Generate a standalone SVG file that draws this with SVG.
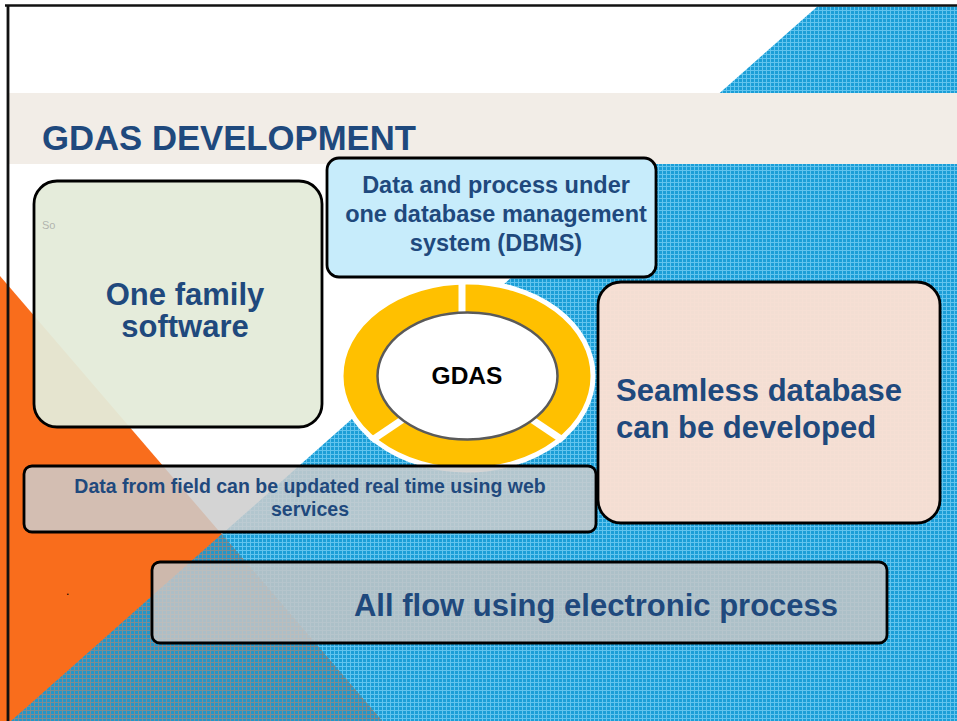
<svg xmlns="http://www.w3.org/2000/svg" width="957" height="721" viewBox="0 0 957 721">
  <style>
    .box { stroke: #000; stroke-width: 2.8; }
    .t { font-family: "Liberation Sans", Arial, sans-serif; font-weight: bold; fill: #1f497d; text-anchor: middle; }
    .tl { font-family: "Liberation Sans", Arial, sans-serif; font-weight: bold; fill: #1f497d; }
  </style>
  <defs>
    <pattern id="blueTex" width="4" height="4" patternUnits="userSpaceOnUse">
      <rect width="4" height="4" fill="#1b9ed7"/>
      <rect x="0" y="2" width="4" height="1" fill="#62c4ee"/>
      <rect x="2" y="0" width="1" height="4" fill="#62c4ee"/>
    </pattern>
    <pattern id="darkTex" width="4" height="4" patternUnits="userSpaceOnUse">
      <rect width="4" height="4" fill="#2496c9"/>
      <rect x="0" y="2" width="4" height="1" fill="#7f8b90"/>
      <rect x="2" y="0" width="1" height="4" fill="#7f8b90"/>
    </pattern>
    <clipPath id="ringClip">
      <ellipse cx="467" cy="376" rx="129" ry="97"/>
    </clipPath>
  </defs>

  <!-- background -->
  <g id="background">
    <rect x="0" y="0" width="957" height="721" fill="#ffffff"/>
    <polygon points="819,5 957,5 957,721 11,721" fill="url(#blueTex)"/>
    <polygon points="0,276 382,721 0,721" fill="#f96d1c"/>
    <polygon points="221.8,534 382,721 11,721" fill="url(#darkTex)"/>
    <rect x="7" y="93" width="950" height="71" fill="#f2ede7"/>
    <line x1="5" y1="5.5" x2="957" y2="5.5" stroke="#111" stroke-width="2.5"/>
    <line x1="8" y1="5" x2="8" y2="721" stroke="#111" stroke-width="2.8"/>
  </g>

  <g id="title">
    <text x="42" y="150" font-family="'Liberation Sans', Arial, sans-serif" font-weight="bold" font-size="34.5" fill="#1f497d" textLength="374" lengthAdjust="spacingAndGlyphs">GDAS DEVELOPMENT</text>
  </g>

  <g id="connectors"/>

  <g id="node-one-family">
    <rect class="box" x="34" y="181" width="288" height="246" rx="23" fill="#e4ebd9" fill-opacity="0.95"/>
    <text x="42" y="229" font-family="'Liberation Sans', Arial, sans-serif" font-size="11" fill="#9a9a9a" fill-opacity="0.7">So</text>
    <text class="t" x="185" y="305" font-size="31">One family</text>
    <text class="t" x="185" y="337" font-size="31">software</text>
  </g>

  <g id="node-dbms">
    <rect class="box" x="327" y="158" width="329" height="119" rx="12" fill="#c7ecfb"/>
    <text class="t" x="496" y="193" font-size="23.5">Data and process under</text>
    <text class="t" x="496" y="222" font-size="23.5">one database management</text>
    <text class="t" x="496" y="251" font-size="23.5">system (DBMS)</text>
  </g>

  <g id="node-gdas">
    <ellipse cx="467" cy="376" rx="126" ry="94" fill="#ffc000" stroke="#ffffff" stroke-width="5"/>
    <g clip-path="url(#ringClip)" stroke="#ffffff" stroke-width="7">
      <line x1="462" y1="376" x2="462" y2="260"/>
      <line x1="467" y1="376" x2="313" y2="480"/>
      <line x1="467" y1="376" x2="613" y2="474"/>
    </g>
    <ellipse cx="467.5" cy="376" rx="90" ry="63.5" fill="#ffffff" stroke="#5a5a5a" stroke-width="2.5"/>
    <text x="467" y="384" font-family="'Liberation Sans', Arial, sans-serif" font-weight="bold" font-size="24.5" fill="#000" text-anchor="middle">GDAS</text>
  </g>

  <g id="node-seamless">
    <rect class="box" x="598" y="282" width="342" height="241" rx="23" fill="#fbe0d3" fill-opacity="0.97"/>
    <text class="tl" x="616" y="401" font-size="31">Seamless database</text>
    <text class="tl" x="616" y="438" font-size="31">can be developed</text>
  </g>

  <g id="node-field">
    <rect class="box" x="24" y="466" width="572" height="66" rx="8" fill="#cccccc" fill-opacity="0.85"/>
    <text class="t" x="310" y="493" font-size="19.5">Data from field can be updated real time using web</text>
    <text class="t" x="310" y="516" font-size="19.5">services</text>
  </g>

  <g id="node-dot">
    <text x="66" y="595" font-family="'Liberation Sans', Arial, sans-serif" font-size="12" fill="#000">.</text>
  </g>

  <g id="node-all-flow">
    <rect class="box" x="152" y="562" width="735" height="81" rx="8" fill="#c6c6c6" fill-opacity="0.85"/>
    <text class="t" x="596" y="616" font-size="31">All flow using electronic process</text>
  </g>
</svg>
